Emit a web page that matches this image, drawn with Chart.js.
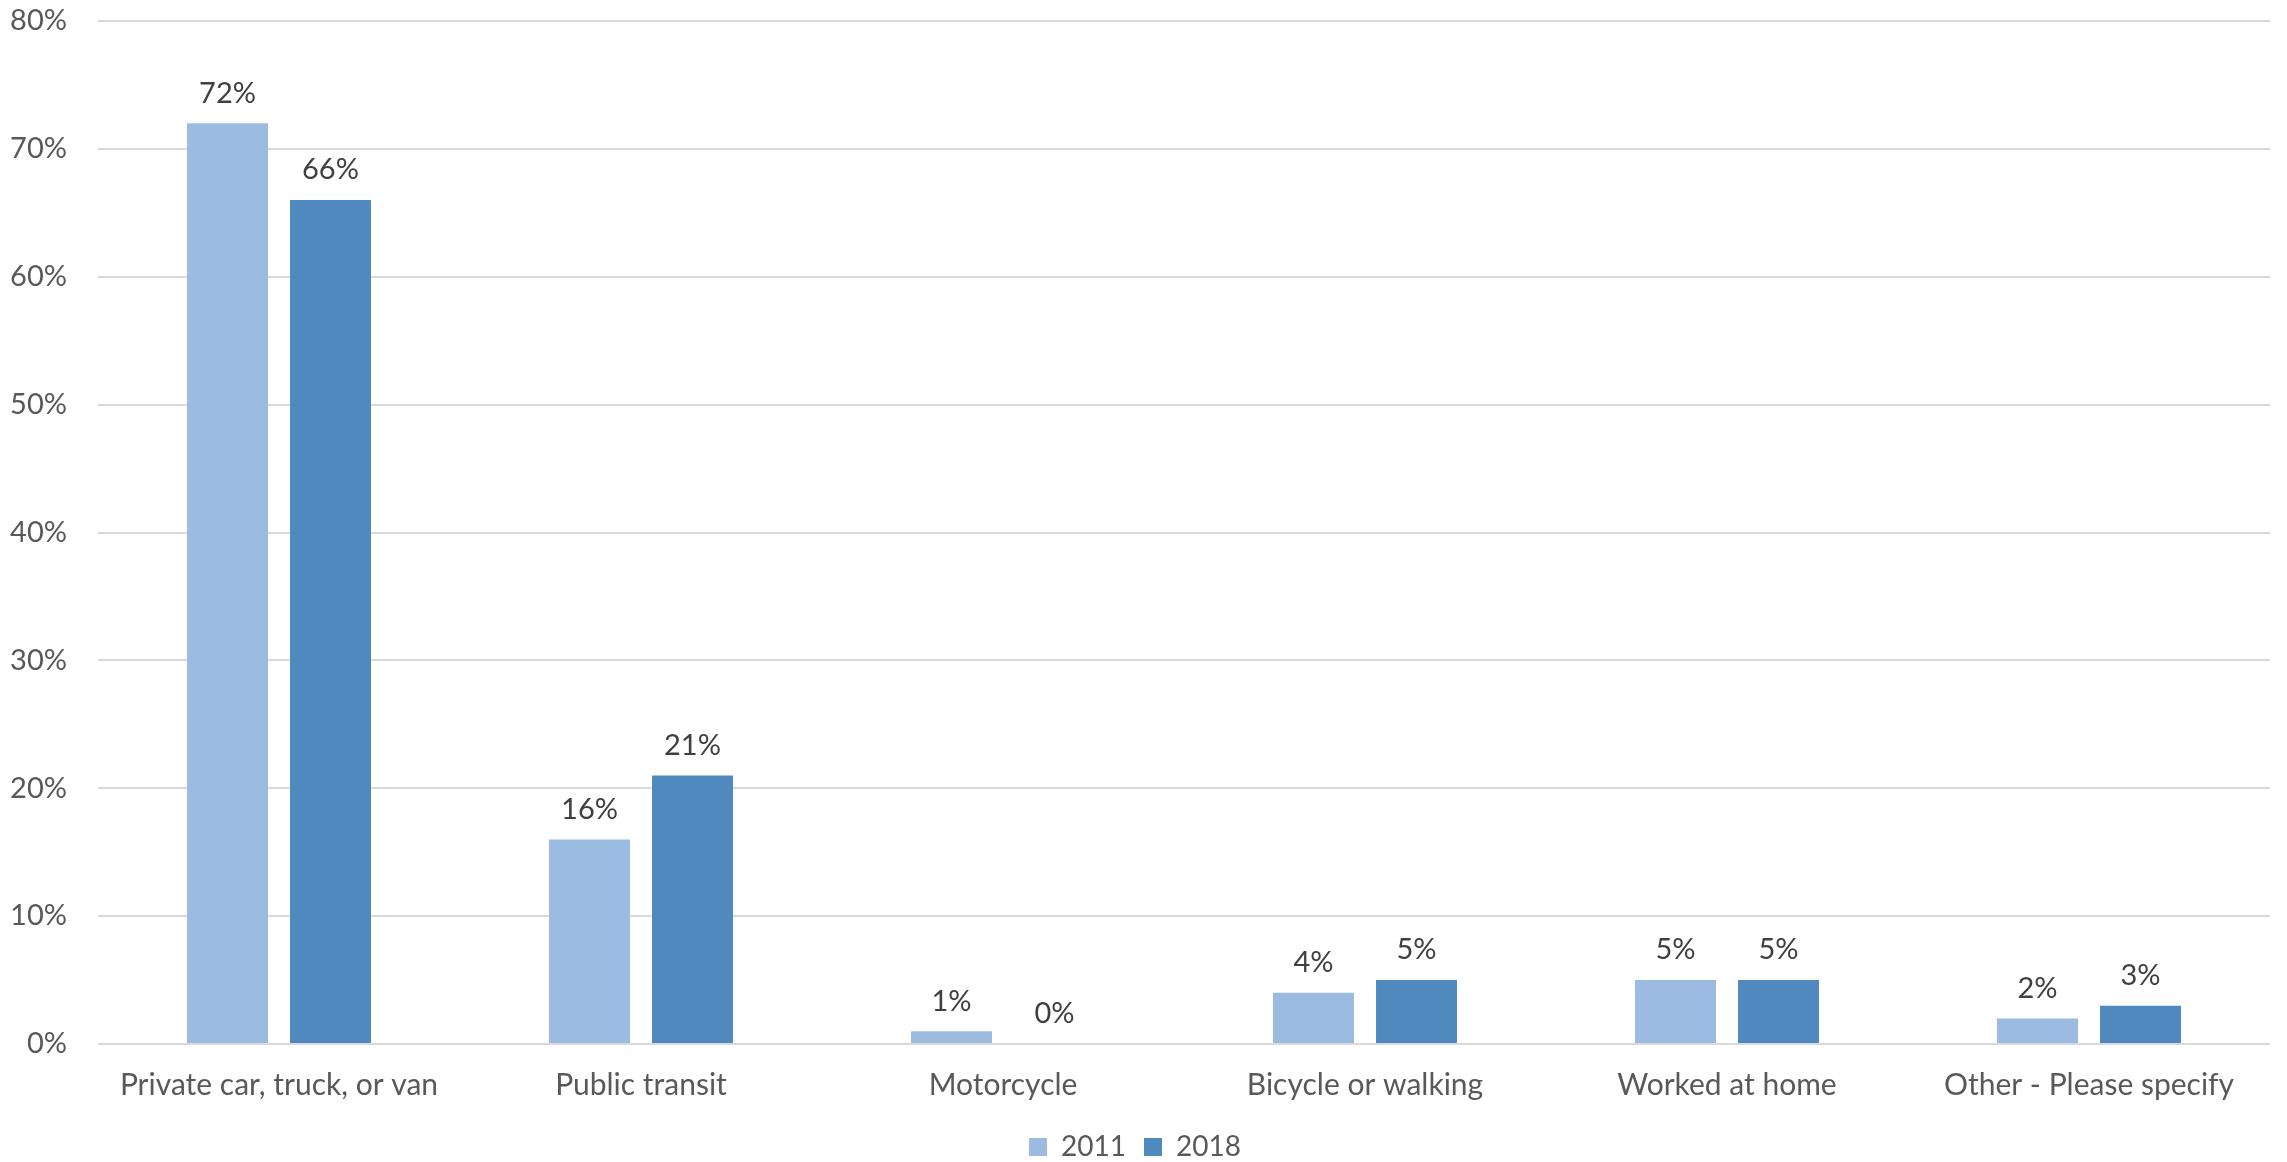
<!DOCTYPE html>
<html lang="en">
<head>
    <meta charset="UTF-8" />
    <title>Commute mode 2011 vs 2018</title>
    <script src="https://cdn.jsdelivr.net/npm/chart.js"></script>
    <style>
        html, body { margin: 0; padding: 0; background: #fff; }
        #wrap { width: 2287px; height: 1162px; }
    </style>
</head>
<body>
    <div id="wrap"><canvas id="modeChart"></canvas></div>
    <script>
        const categories = ['Private car, truck, or van', 'Public transit', 'Motorcycle', 'Bicycle or walking', 'Worked at home', 'Other - Please specify'];
        const values2011 = [72, 16, 1, 4, 5, 2];
        const values2018 = [66, 21, 0, 5, 5, 3];
        const yTicks = [0, 10, 20, 30, 40, 50, 60, 70, 80];

        const textColor = '#595959';
        const fontFamily = 'Lato, "Open Sans", sans-serif';

        // draws the value above each bar
        const barLabels = {
            id: 'barLabels',
            afterDatasetsDraw(chart) {
                const ctx = chart.ctx;
                ctx.save();
                ctx.font = '29px ' + fontFamily;
                ctx.fillStyle = '#404040';
                ctx.textAlign = 'center';
                ctx.textBaseline = 'middle';
                chart.data.datasets.forEach((ds, i) => {
                    chart.getDatasetMeta(i).data.forEach((bar, j) => {
                        ctx.fillText(ds.data[j] + '%', bar.x, bar.y - 30);
                    });
                });
                ctx.restore();
            }
        };

        // nudge the legend closer to the bottom edge, like the original
        const legendShift = {
            id: 'legendShift',
            afterLayout(chart) {
                if (chart.legend) {
                    chart.legend.top += 9;
                    chart.legend.bottom += 9;
                }
            }
        };

        const ctx = document.getElementById('modeChart').getContext('2d');
        new Chart(ctx, {
            type: 'bar',
            data: {
                labels: categories,
                datasets: [
                    { label: '2011', data: values2011, backgroundColor: '#9BBBE0' },
                    { label: '2018', data: values2018, backgroundColor: '#4F89BD' }
                ]
            },
            options: {
                responsive: true,
                maintainAspectRatio: false,
                animation: false,
                categoryPercentage: 0.569,
                barPercentage: 0.786,
                layout: { padding: { top: 21, right: 17, left: 0, bottom: 0 } },
                scales: {
                    x: {
                        grid: { display: false },
                        border: { display: false },
                        ticks: { color: textColor, font: { family: fontFamily, size: 30 }, padding: 15, maxRotation: 0, autoSkip: false },
                        afterFit(scale) { scale.height = 62; }
                    },
                    y: {
                        min: 0,
                        max: 80,
                        afterBuildTicks(scale) { scale.ticks = yTicks.map(v => ({ value: v })); },
                        grid: { color: '#D9D9D9', lineWidth: 2, drawTicks: false },
                        border: { display: false },
                        ticks: {
                            color: textColor,
                            font: { family: fontFamily, size: 29 },
                            padding: 31,
                            callback: v => v + '%'
                        },
                        afterFit(scale) {
                            scale.width = 98;
                            scale.paddingTop = 0;
                            scale.paddingBottom = 0;
                        }
                    }
                },
                plugins: {
                    legend: {
                        position: 'bottom',
                        labels: {
                            color: textColor,
                            font: { family: fontFamily, size: 28 },
                            boxWidth: 18,
                            boxHeight: 18,
                            padding: 18
                        }
                    },
                    tooltip: { enabled: false }
                }
            },
            plugins: [barLabels, legendShift]
        });
    </script>
</body>
</html>
